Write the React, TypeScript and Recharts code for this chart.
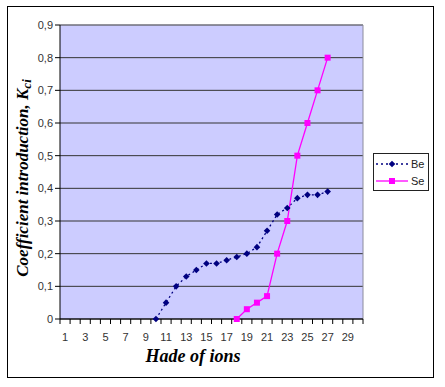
import { CartesianGrid, Line, LineChart, ReferenceLine, XAxis, YAxis } from "recharts";

const hade = [10, 11, 12, 13, 14, 15, 16, 17, 18, 19, 20, 21, 22, 23, 24, 25, 26, 27];
const beValues = [0, 0.05, 0.1, 0.13, 0.15, 0.17, 0.17, 0.18, 0.19, 0.2, 0.22, 0.27, 0.32, 0.34, 0.37, 0.38, 0.38, 0.39];
const seHade = [18, 19, 20, 21, 22, 23, 24, 25, 26, 27];
const seValues = [0, 0.03, 0.05, 0.07, 0.2, 0.3, 0.5, 0.6, 0.7, 0.8];

const xLabels = [1, 3, 5, 7, 9, 11, 13, 15, 17, 19, 21, 23, 25, 27, 29];
const yTicks = [0, 0.1, 0.2, 0.3, 0.4, 0.5, 0.6, 0.7, 0.8, 0.9];

const BE_COLOR = "#000080";
const SE_COLOR = "#FF00FF";
const AXIS_FONT = "'Liberation Sans', Arial, sans-serif";
const TITLE_FONT = "'Liberation Serif', 'Times New Roman', serif";

const data = hade.map((h, i) => {
  const j = seHade.indexOf(h);
  return { hade: h, be: beValues[i], se: j >= 0 ? seValues[j] : undefined };
});

// Excel-style: tick marks sit between categories, labels on every other category
const xTickPositions: number[] = [];
for (let v = 0.5; v <= 30.5; v += 0.5) xTickPositions.push(v);

function XTick(props: any) {
  const { x, y, payload } = props;
  const v = payload.value;
  if (!Number.isInteger(v)) {
    return <line x1={x} x2={x} y1={y} y2={y + 5} stroke="#000" strokeWidth={1} />;
  }
  if (!xLabels.includes(v)) return <g />;
  return (
    <text x={x} y={y + 22} textAnchor="middle" fontSize={11} fill="#333" fontFamily={AXIS_FONT}>
      {v}
    </text>
  );
}

function Diamond(props: any) {
  const { cx, cy } = props;
  if (cx == null || cy == null) return <g key={props.key} />;
  const r = 3.3;
  return (
    <path
      key={props.key}
      d={`M${cx},${cy - r}L${cx + r},${cy}L${cx},${cy + r}L${cx - r},${cy}Z`}
      fill={BE_COLOR}
    />
  );
}

function Square(props: any) {
  const { cx, cy } = props;
  if (cx == null || cy == null) return <g key={props.key} />;
  const s = 3;
  return <rect key={props.key} x={cx - s} y={cy - s} width={s * 2} height={s * 2} fill={SE_COLOR} />;
}

function YTitle() {
  return (
    <text
      x={28}
      y={178}
      transform="rotate(-90, 28, 178)"
      textAnchor="middle"
      fontFamily={TITLE_FONT}
      fontWeight="bold"
      fontStyle="italic"
      fontSize={17}
      fill="#000"
    >
      Coefficient introduction, K
      <tspan fontSize={13} dy={3} fontStyle="italic">
        ci
      </tspan>
    </text>
  );
}

function ChartLegend() {
  const row = (label: string, color: string, dashed: boolean, square: boolean) => (
    <div style={{ display: "flex", alignItems: "center", height: 17 }}>
      <svg width={36} height={10}>
        <line x1={2} x2={34} y1={5} y2={5} stroke={color} strokeWidth={1.3} strokeDasharray={dashed ? "2 3" : undefined} />
        {square ? (
          <rect x={15} y={2} width={6} height={6} fill={color} />
        ) : (
          <path d="M18,1.7L21.3,5L18,8.3L14.7,5Z" fill={color} />
        )}
      </svg>
      <span style={{ fontFamily: AXIS_FONT, fontSize: 11, color: "#222", marginLeft: 1 }}>{label}</span>
    </div>
  );
  return (
    <div
      style={{
        position: "absolute",
        left: 373,
        top: 153,
        width: 54,
        height: 35,
        border: "1px solid #222",
        background: "#fff",
        boxSizing: "content-box",
        paddingTop: 1,
      }}
    >
      {row("Be", BE_COLOR, true, false)}
      {row("Se", SE_COLOR, false, true)}
    </div>
  );
}

export default function App() {
  return (
    <div style={{ position: "absolute", left: 0, top: 0, width: 445, height: 387, background: "#fff" }}>
      <div
        style={{
          position: "absolute",
          left: 7,
          top: 6,
          width: 425,
          height: 370,
          border: "1px solid #000",
        }}
      />
      <LineChart width={445} height={387} data={data} margin={{ top: 25, right: 82, bottom: 0, left: 0 }}>
        <CartesianGrid vertical={false} stroke="#333" fill="#CCCCFF" fillOpacity={1} />
        <ReferenceLine y={0.9} stroke="#8c8c9c" />
        <ReferenceLine x={30.5} stroke="#8c8c9c" />
        <XAxis
          dataKey="hade"
          type="number"
          domain={[0.5, 30.5]}
          ticks={xTickPositions}
          interval={0}
          tick={<XTick />}
          tickLine={false}
          tickSize={0}
          tickMargin={0}
          axisLine={{ stroke: "#000" }}
          height={68}
          allowDataOverflow
        />
        <YAxis
          domain={[0, 0.9]}
          ticks={yTicks}
          interval={0}
          width={60}
          tickSize={5}
          tickLine={{ stroke: "#000" }}
          axisLine={{ stroke: "#000" }}
          tickFormatter={(v: number) => (v === 0 ? "0" : v.toFixed(1).replace(".", ","))}
          tick={{ fontSize: 11, fill: "#333", fontFamily: AXIS_FONT }}
          label={<YTitle />}
        />
        <Line
          dataKey="be"
          stroke={BE_COLOR}
          strokeWidth={1.3}
          strokeDasharray="2 3"
          dot={Diamond}
          activeDot={false}
          isAnimationActive={false}
          type="linear"
        />
        <Line
          dataKey="se"
          stroke={SE_COLOR}
          strokeWidth={1.3}
          dot={Square}
          activeDot={false}
          isAnimationActive={false}
          type="linear"
        />
      </LineChart>
      <ChartLegend />
      <div
        style={{
          position: "absolute",
          left: 193,
          top: 346,
          transform: "translateX(-50%)",
          fontFamily: TITLE_FONT,
          fontWeight: "bold",
          fontStyle: "italic",
          fontSize: 18,
          whiteSpace: "nowrap",
        }}
      >
        Hade of ions
      </div>
    </div>
  );
}
